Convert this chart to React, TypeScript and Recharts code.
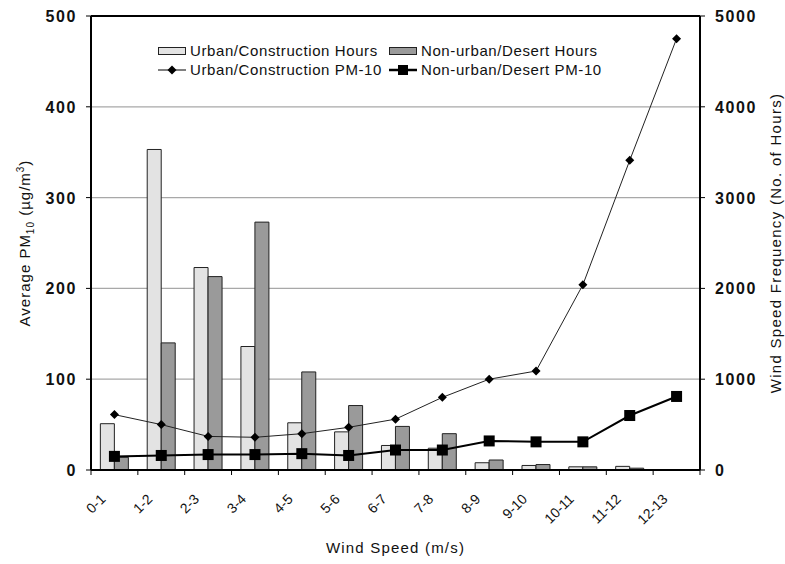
import React from "react";
import {
  ComposedChart,
  Bar,
  Line,
  XAxis,
  YAxis,
  CartesianGrid,
  ReferenceLine,
  Legend,
} from "recharts";

const categories = ["0-1", "1-2", "2-3", "3-4", "4-5", "5-6", "6-7", "7-8", "8-9", "9-10", "10-11", "11-12", "12-13"];
const urbanHours = [510, 3530, 2230, 1360, 520, 420, 270, 240, 80, 50, 35, 40, 0];
const desertHours = [140, 1400, 2130, 2730, 1080, 710, 480, 400, 110, 60, 35, 20, 0];
const urbanPM = [61, 50, 37, 36, 40, 47, 56, 80, 100, 109, 204, 341, 475];
const desertPM = [15, 16, 17, 17, 18, 16, 22, 22, 32, 31, 31, 60, 81];
const leftTicks = [0, 100, 200, 300, 400, 500];
const rightTicks = [0, 1000, 2000, 3000, 4000, 5000];

const data = categories.map((c, i) => ({
  cat: c,
  urbanHours: urbanHours[i],
  desertHours: desertHours[i],
  urbanPM: urbanPM[i],
  desertPM: desertPM[i],
}));

const W = 785;
const H = 564;
const LEFT_W = 91;
const RIGHT_W = 85;
const X_H = 94;
const TOP = 16;
const BAND = (W - LEFT_W - RIGHT_W) / categories.length;
const FONT = "'Liberation Sans', Arial, sans-serif";
const INK = "#111";

const Diamond = (p: any) => {
  const { cx, cy, index } = p;
  if (cx == null || cy == null) return <g key={`d${index}`} />;
  const r = 4.5;
  return (
    <path
      key={`d${index}`}
      d={`M${cx},${cy - r}L${cx + r},${cy}L${cx},${cy + r}L${cx - r},${cy}Z`}
      fill="#000"
    />
  );
};

const Square = (p: any) => {
  const { cx, cy, index } = p;
  if (cx == null || cy == null) return <g key={`s${index}`} />;
  const s = 11;
  return <rect key={`s${index}`} x={cx - s / 2} y={cy - s / 2} width={s} height={s} fill="#000" />;
};

// category labels sit under the band, tick marks go on the band edges
const XTick = (p: any) => {
  const { x, y, payload, index } = p;
  const bx = x - BAND / 2;
  return (
    <g>
      <line x1={bx} x2={bx} y1={y} y2={y + 5} stroke="#000" strokeWidth={1} />
      {index === categories.length - 1 && (
        <line x1={x + BAND / 2} x2={x + BAND / 2} y1={y} y2={y + 5} stroke="#000" strokeWidth={1} />
      )}
      <text
        transform={`translate(${x - 8},${y + 30}) rotate(-45)`}
        textAnchor="end"
        fontSize={14}
        fontFamily={FONT}
        fill={INK}
      >
        {payload.value}
      </text>
    </g>
  );
};

const LeftTick = (p: any) => (
  <text x={p.x} y={p.y} dy={6} textAnchor="end" fontSize={16} fontWeight={700} fontFamily={FONT} fill={INK} letterSpacing={1.6}>
    {p.payload.value}
  </text>
);

const RightTick = (p: any) => (
  <text x={p.x} y={p.y} dy={6} textAnchor="start" fontSize={16} fontWeight={700} fontFamily={FONT} fill={INK} letterSpacing={1.6}>
    {p.payload.value}
  </text>
);

const legendItems = [
  { label: "Urban/Construction Hours", kind: "bar", fill: "#e3e3e3" },
  { label: "Non-urban/Desert Hours", kind: "bar", fill: "#9a9a9a" },
  { label: "Urban/Construction PM-10", kind: "diamond" },
  { label: "Non-urban/Desert PM-10", kind: "square" },
];

const LegendIcon = ({ kind, fill }: { kind: string; fill?: string }) => (
  <svg width={28} height={12} style={{ display: "block" }}>
    {kind === "bar" && <rect x={0.5} y={2.5} width={27} height={7} fill={fill} stroke="#222" strokeWidth={1} />}
    {kind === "diamond" && (
      <>
        <line x1={0} x2={28} y1={6} y2={6} stroke="#000" strokeWidth={1} />
        <path d="M14,1.5L18.5,6L14,10.5L9.5,6Z" fill="#000" />
      </>
    )}
    {kind === "square" && (
      <>
        <line x1={0} x2={28} y1={6} y2={6} stroke="#000" strokeWidth={2.5} />
        <rect x={9} y={1} width={10} height={10} fill="#000" />
      </>
    )}
  </svg>
);

const LegendBox = () => (
  <div
    style={{
      display: "grid",
      gridTemplateColumns: "231px auto",
      rowGap: 2,
      fontFamily: FONT,
      fontSize: 15,
      letterSpacing: 0.6,
      color: INK,
      lineHeight: "17px",
    }}
  >
    {legendItems.map((it) => (
      <div key={it.label} style={{ display: "flex", alignItems: "center", gap: 4, whiteSpace: "nowrap" }}>
        <LegendIcon kind={it.kind} fill={it.fill} />
        <span>{it.label}</span>
      </div>
    ))}
  </div>
);

export default function App() {
  return (
    <div style={{ position: "absolute", left: 0, top: 0, width: W, height: H, background: "#fff" }}>
      <ComposedChart
        width={W}
        height={H}
        data={data}
        margin={{ top: TOP, right: 0, bottom: 0, left: 0 }}
        barCategoryGap="20%"
        barGap={0}
      >
        <CartesianGrid yAxisId="left" vertical={false} stroke="#a8a8a8" strokeWidth={1.2} />
        <XAxis
          dataKey="cat"
          height={X_H}
          interval={0}
          tickLine={false}
          tickSize={0}
          tickMargin={0}
          tick={<XTick />}
          axisLine={{ stroke: "#000", strokeWidth: 2 }}
        />
        <YAxis
          yAxisId="left"
          width={LEFT_W}
          domain={[0, 500]}
          ticks={leftTicks}
          tickSize={5}
          tickMargin={9}
          tick={<LeftTick />}
          tickLine={{ stroke: "#000" }}
          axisLine={{ stroke: "#000", strokeWidth: 2 }}
        />
        <YAxis
          yAxisId="right"
          orientation="right"
          width={RIGHT_W}
          domain={[0, 5000]}
          ticks={rightTicks}
          tickSize={5}
          tickMargin={10}
          tick={<RightTick />}
          tickLine={{ stroke: "#000" }}
          axisLine={{ stroke: "#000", strokeWidth: 2 }}
        />
        <ReferenceLine yAxisId="left" y={500} stroke="#000" strokeWidth={2} />
        <Bar yAxisId="right" dataKey="urbanHours" fill="#e3e3e3" stroke="#222" strokeWidth={1} isAnimationActive={false} />
        <Bar yAxisId="right" dataKey="desertHours" fill="#9a9a9a" stroke="#222" strokeWidth={1} isAnimationActive={false} />
        <Line
          yAxisId="left"
          dataKey="urbanPM"
          stroke="#222"
          strokeWidth={1}
          dot={Diamond}
          activeDot={false}
          isAnimationActive={false}
        />
        <Line
          yAxisId="left"
          dataKey="desertPM"
          stroke="#000"
          strokeWidth={2}
          dot={Square}
          activeDot={false}
          isAnimationActive={false}
        />
        <Legend
          verticalAlign="middle"
          align="center"
          layout="horizontal"
          content={() => <LegendBox />}
          wrapperStyle={{ position: "absolute", top: 42, left: 158, width: "auto" }}
        />
      </ComposedChart>
      <svg width={W} height={H} style={{ position: "absolute", left: 0, top: 0, pointerEvents: "none" }}>
        <text
          transform={`translate(30,${TOP + (H - X_H - TOP) / 2}) rotate(-90)`}
          textAnchor="middle"
          fontSize={15}
          fontFamily={FONT}
          fill={INK}
          letterSpacing={1}
        >
          Average PM
          <tspan fontSize={10} dy={4}>10</tspan>
          <tspan dy={-4}> (µg/m</tspan>
          <tspan fontSize={10} dy={-6}>3</tspan>
          <tspan dy={6}>)</tspan>
        </text>
        <text
          transform={`translate(781,${TOP + (H - X_H - TOP) / 2}) rotate(-90)`}
          textAnchor="middle"
          fontSize={15}
          fontFamily={FONT}
          fill={INK}
          letterSpacing={1.3}
        >
          Wind Speed Frequency (No. of Hours)
        </text>
        <text
          x={LEFT_W + (W - LEFT_W - RIGHT_W) / 2}
          y={553}
          textAnchor="middle"
          fontSize={15}
          fontFamily={FONT}
          fill={INK}
          letterSpacing={1.2}
        >
          Wind Speed (m/s)
        </text>
      </svg>
    </div>
  );
}
